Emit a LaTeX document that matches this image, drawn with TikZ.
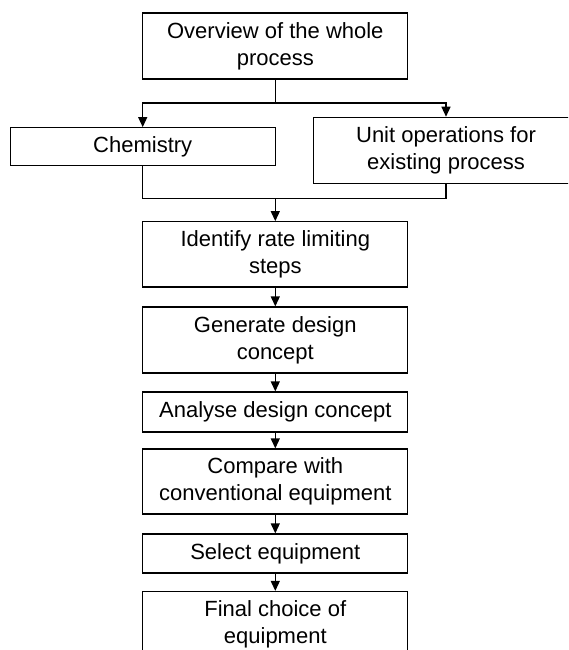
\documentclass[tikz,border=0pt]{standalone}
\usepackage{fontspec}
\setmainfont{Liberation Sans}
\usetikzlibrary{arrows.meta}
\begin{document}
\begin{tikzpicture}[x=1pt,y=-1pt,
  box/.style={draw, line width=1.2pt, align=center, inner sep=0pt,
    minimum width=265pt, font=\fontsize{22}{27}\selectfont},
  link/.style={line width=1.3pt},
  flow/.style={link, -{Triangle[length=10pt,width=9pt]}}]
\useasboundingbox (0,0) rectangle (568,650);
\clip (0,0) rectangle (568,650);

% boxes
\node[box, minimum height=66pt] (overview) at (275.3,46)
  {Overview of the whole\\process};
\node[box, minimum height=38pt] (chem) at (142.7,146.7)
  {Chemistry};
\node[box, minimum height=66pt] (unitops) at (446,150.3)
  {Unit operations for\\existing process};
\node[box, minimum height=65.3pt] (identify) at (275.3,254.4)
  {Identify rate limiting\\steps};
\node[box, minimum height=66pt] (generate) at (275.3,340)
  {Generate design\\concept};
\node[box, minimum height=40pt] (analyse) at (275.3,412)
  {Analyse design concept};
\node[box, minimum height=65pt] (compare) at (275.3,481.5)
  {Compare with\\conventional equipment};
\node[box, minimum height=39pt] (select) at (275.3,553.5)
  {Select equipment};
\node[box, minimum height=65pt] (final) at (275.3,624)
  {Final choice of\\equipment};

% split below the overview
\coordinate (split) at (275.3,103);
\draw[link] (overview.south) -- (split);
\draw[flow] (split) -| (chem.north);
\draw[flow] (split) -| (unitops.north);

% merge into the main sequence
\coordinate (merge) at (275.3,198.5);
\draw[link] (chem.south) |- (merge) -| (unitops.south);
\draw[flow] (merge) -- (identify.north);

% main sequence
\draw[flow] (identify) -- (generate);
\draw[flow] (generate) -- (analyse);
\draw[flow] (analyse) -- (compare);
\draw[flow] (compare) -- (select);
\draw[flow] (select) -- (final);
\end{tikzpicture}
\end{document}
